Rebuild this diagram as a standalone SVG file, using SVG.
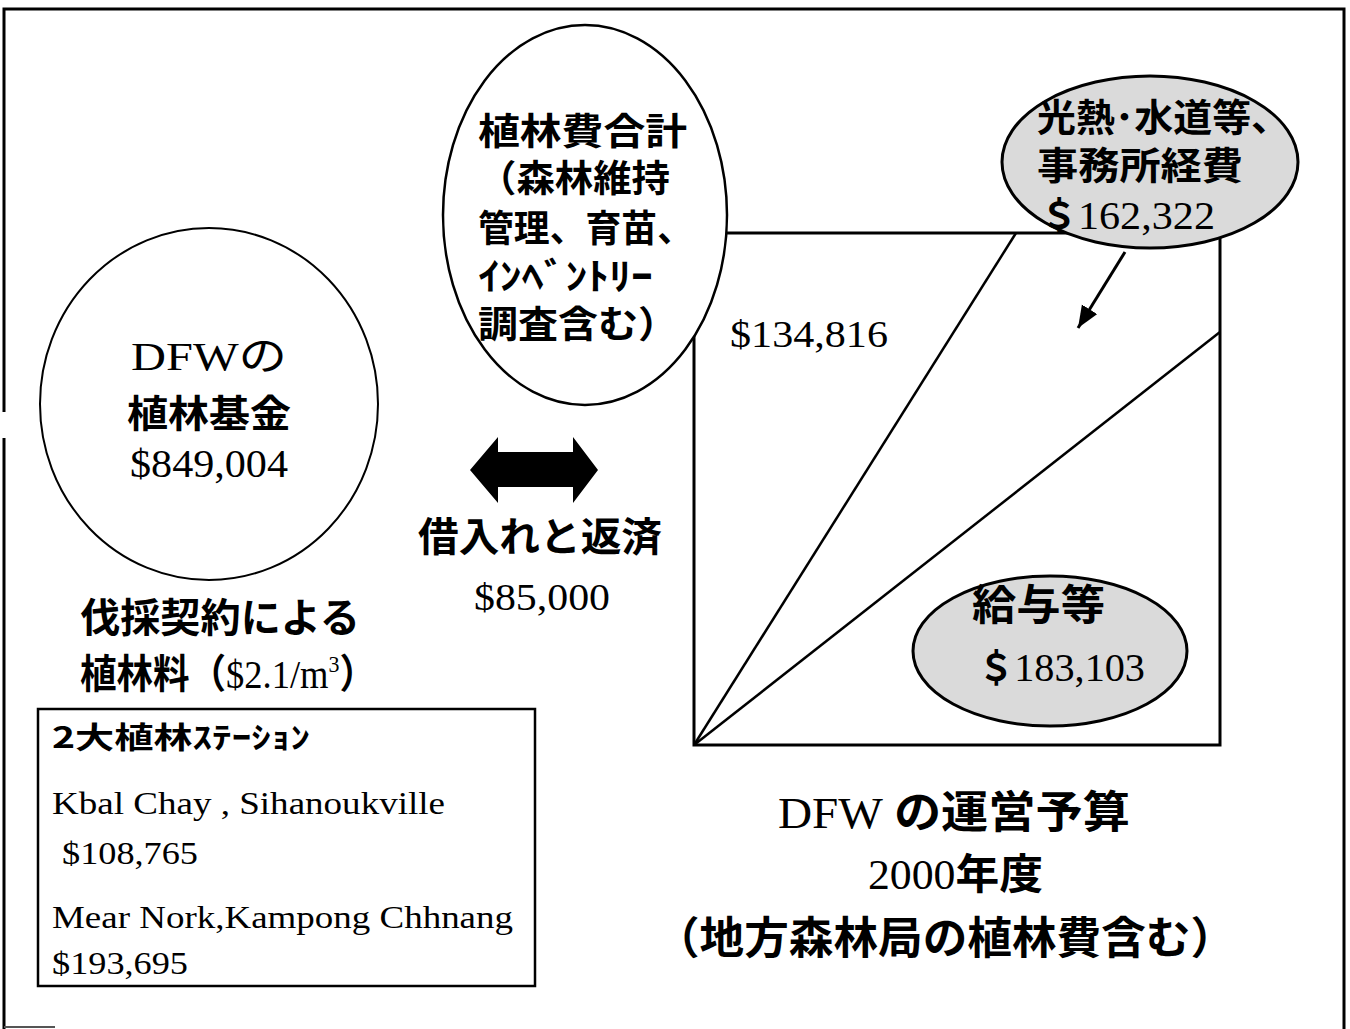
<svg xmlns="http://www.w3.org/2000/svg" width="1350" height="1029" viewBox="0 0 1350 1029">
<defs>
<style>
.jp{font-family:"Noto Sans CJK JP","Noto Sans",sans-serif;fill:#000;font-weight:bold}
.sr{font-family:"Liberation Serif","Noto Sans CJK JP",serif;fill:#000}
.ln{stroke:#000;fill:none}
.wh{fill:#fff;stroke:#000}
.gr{fill:#dadada;stroke:#000;stroke-width:3}
</style>
<marker id="ah" markerUnits="userSpaceOnUse" markerWidth="24" markerHeight="20" refX="22" refY="9" orient="auto">
<path d="M0,0 L22,9 L0,18 Z" fill="#000"/>
</marker>
</defs>
<rect width="1350" height="1029" fill="#fff"/>
<g id="frame" class="ln">
<path d="M4,1029 V438 M4,412 V9 H1344 V1029" stroke-width="3"/>
<path d="M4,1027 H55" stroke-width="2" stroke="#555"/>
</g>

<g id="budget-square">
<rect x="694" y="233" width="526" height="512" class="ln" stroke-width="3"/>
</g>

<g id="connectors" class="ln">
<line x1="694" y1="745" x2="1016" y2="233" stroke-width="2.5"/>
<line x1="694" y1="745" x2="1220" y2="332" stroke-width="2.5"/>
<line x1="1125" y1="252" x2="1078" y2="328" stroke-width="3" marker-end="url(#ah)"/>
<polygon points="470,470 498,437 498,452 573,452 573,437 598,470 573,503 573,487 498,487 498,503" fill="#000" stroke="none"/>
</g>

<g id="fund-circle">
<ellipse cx="209" cy="404" rx="169" ry="176" class="wh" stroke-width="2"/>
<text class="sr" x="209" y="370" font-size="40" text-anchor="middle" textLength="156" lengthAdjust="spacingAndGlyphs">DFWの</text>
<text class="jp" x="209" y="427" font-size="38" text-anchor="middle" textLength="164" lengthAdjust="spacingAndGlyphs">植林基金</text>
<text class="sr" x="209" y="477" font-size="40" text-anchor="middle" textLength="158" lengthAdjust="spacingAndGlyphs">$849,004</text>
</g>

<g id="fee-label">
<text class="jp" x="80" y="632" font-size="40" textLength="280" lengthAdjust="spacingAndGlyphs">伐採契約による</text>
<text class="sr" x="80" y="688" font-size="40" textLength="296" lengthAdjust="spacingAndGlyphs"><tspan class="jp">植林料（</tspan>$2.1/m<tspan font-size="24" dy="-16">3</tspan><tspan class="jp" dy="16">）</tspan></text>
</g>

<g id="stations-box">
<rect x="38" y="709" width="497" height="277" class="ln" stroke-width="2.5"/>
<text class="jp" x="52" y="748" font-size="30" textLength="258" lengthAdjust="spacingAndGlyphs">2大植林ｽﾃｰｼｮﾝ</text>
<text class="sr" x="52" y="814" font-size="32" textLength="393" lengthAdjust="spacingAndGlyphs">Kbal Chay , Sihanoukville</text>
<text class="sr" x="62" y="864" font-size="32" textLength="136" lengthAdjust="spacingAndGlyphs">$108,765</text>
<text class="sr" x="52" y="928" font-size="32" textLength="461" lengthAdjust="spacingAndGlyphs">Mear Nork,Kampong Chhnang</text>
<text class="sr" x="52" y="974" font-size="32" textLength="136" lengthAdjust="spacingAndGlyphs">$193,695</text>
</g>

<g id="planting-cost-ellipse">
<ellipse cx="585" cy="215" rx="142" ry="190" class="wh" stroke-width="2.5"/>
<text class="jp" x="478" y="145" font-size="37" textLength="209" lengthAdjust="spacingAndGlyphs">植林費合計</text>
<text class="jp" x="478" y="192" font-size="37" textLength="192" lengthAdjust="spacingAndGlyphs">（森林維持</text>
<text class="jp" x="478" y="242" font-size="37" textLength="215" lengthAdjust="spacingAndGlyphs">管理、育苗、</text>
<text class="jp" x="478" y="290" font-size="37" textLength="175" lengthAdjust="spacingAndGlyphs">ｲﾝﾍﾞﾝﾄﾘｰ</text>
<text class="jp" x="478" y="338" font-size="37" textLength="200" lengthAdjust="spacingAndGlyphs">調査含む）</text>
</g>

<g id="amount-134816">
<text class="sr" x="730" y="347" font-size="38" textLength="158" lengthAdjust="spacingAndGlyphs">$134,816</text>
</g>

<g id="loan-label">
<text class="jp" x="418" y="551" font-size="40" textLength="244" lengthAdjust="spacingAndGlyphs">借入れと返済</text>
<text class="sr" x="474" y="610" font-size="38" textLength="136" lengthAdjust="spacingAndGlyphs">$85,000</text>
</g>

<g id="office-ellipse">
<ellipse cx="1150" cy="162" rx="148" ry="86" class="gr"/>
<text class="jp" x="1037" y="131" font-size="38" textLength="253" lengthAdjust="spacingAndGlyphs">光熱･水道等、</text>
<text class="jp" x="1037" y="179" font-size="38" textLength="206" lengthAdjust="spacingAndGlyphs">事務所経費</text>
<text class="sr" x="1040" y="229" font-size="40" textLength="175" lengthAdjust="spacingAndGlyphs"><tspan class="jp" font-size="36">＄</tspan>162,322</text>
</g>

<g id="salary-ellipse">
<ellipse cx="1050" cy="651" rx="137" ry="75" class="gr"/>
<text class="jp" x="972" y="620" font-size="42" textLength="133" lengthAdjust="spacingAndGlyphs">給与等</text>
<text class="sr" x="978" y="681" font-size="40" textLength="167" lengthAdjust="spacingAndGlyphs"><tspan class="jp" font-size="36">＄</tspan>183,103</text>
</g>

<g id="budget-title">
<text class="sr" x="778" y="828" font-size="44" textLength="352" lengthAdjust="spacingAndGlyphs">DFW <tspan class="jp">の運営予算</tspan></text>
<text class="sr" x="868" y="889" font-size="42" textLength="175" lengthAdjust="spacingAndGlyphs">2000<tspan class="jp">年度</tspan></text>
<text class="jp" x="655" y="954" font-size="44" textLength="580" lengthAdjust="spacingAndGlyphs">（地方森林局の植林費含む）</text>
</g>
</svg>
